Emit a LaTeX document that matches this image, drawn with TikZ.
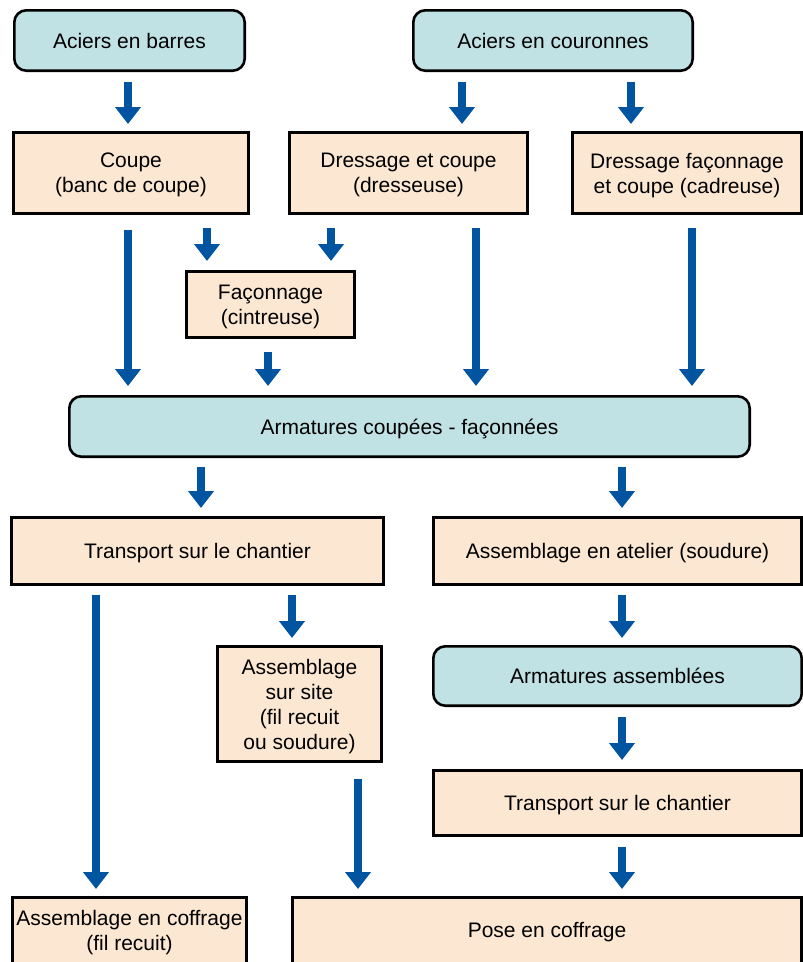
\documentclass[tikz,border=0pt]{standalone}
\usepackage{fontspec}
\setmainfont{Liberation Sans}
\usetikzlibrary{arrows.meta}
\definecolor{cyanfill}{RGB}{192,226,229}
\definecolor{peachfill}{RGB}{252,232,210}
\definecolor{arrowblue}{RGB}{0,84,160}
\tikzset{
  basebox/.style={draw=black, line width=2.6pt, align=center, inner sep=0pt,
    font=\fontsize{21}{25}\selectfont, text=black, text depth=0pt},
  stockbox/.style={basebox, fill=cyanfill, rounded corners=12pt},
  opbox/.style={basebox, fill=peachfill},
  flow/.style={draw=arrowblue, line width=8.7pt,
    -{Triangle[width=25pt,length=17pt]}},
}
\begin{document}
\begin{tikzpicture}[x=1pt,y=-1pt]
\useasboundingbox (0,0) rectangle (803,962);
% columns for arrows
\coordinate (k96) at (96,0);
\coordinate (k128) at (128,0);
\coordinate (k201) at (201,0);
\coordinate (k207) at (207,0);
\coordinate (k268) at (268,0);
\coordinate (k292) at (292,0);
\coordinate (k331) at (331,0);
\coordinate (k358) at (358,0);
\coordinate (k462) at (462,0);
\coordinate (k476) at (476,0);
\coordinate (k622) at (622,0);
\coordinate (k631) at (631,0);
\coordinate (k692) at (692,0);

% nodes
\node[stockbox, minimum width=230.4pt, minimum height=60.4pt] (barres) at (129.5,40.5) {Aciers en barres};
\node[stockbox, minimum width=279.4pt, minimum height=60.4pt] (couronnes) at (553,40.5) {Aciers en couronnes};
\node[opbox, minimum width=235.4pt, minimum height=81.4pt] (coupe) at (131,173) {Coupe\\(banc de coupe)};
\node[opbox, minimum width=238.4pt, minimum height=81.4pt] (dressage) at (408.5,173) {Dressage et coupe\\(dresseuse)};
\node[opbox, minimum width=229.4pt, minimum height=81.4pt] (cadreuse) at (687,173) {Dressage façonnage\\et coupe (cadreuse)};
\node[opbox, minimum width=168.4pt, minimum height=66.4pt] (faconnage) at (270.5,304.5) {Façonnage\\(cintreuse)};
\node[stockbox, minimum width=680.4pt, minimum height=60.4pt] (armatures) at (409.5,426.5) {Armatures coupées - façonnées};
\node[opbox, minimum width=372.4pt, minimum height=67.4pt] (transportL) at (197.5,551) {Transport sur le chantier};
\node[opbox, minimum width=368.4pt, minimum height=67.4pt] (atelier) at (617.5,551) {Assemblage en atelier (soudure)};
\node[opbox, minimum width=164.4pt, minimum height=115.4pt] (site) at (299.5,704) {Assemblage\\sur site\\(fil recuit\\ou soudure)};
\node[stockbox, minimum width=368.4pt, minimum height=59.4pt] (assemblees) at (617.5,676) {Armatures assemblées};
\node[opbox, minimum width=368.4pt, minimum height=65.4pt] (transportR) at (617.5,803) {Transport sur le chantier};
\node[opbox, minimum width=234.4pt, minimum height=66pt] (coffrage) at (129.5,930.3) {Assemblage en coffrage\\(fil recuit)};
\node[opbox, minimum width=509.4pt, minimum height=66pt] (pose) at (547,930.3) {Pose en coffrage};

% connectors
\draw[flow, shorten <=10pt, shorten >=7pt] (barres.south -| k128) -- (coupe.north -| k128);
\draw[flow, shorten <=10pt, shorten >=7pt] (couronnes.south -| k462) -- (dressage.north -| k462);
\draw[flow, shorten <=10pt, shorten >=7pt] (couronnes.south -| k631) -- (cadreuse.north -| k631);
\draw[flow, shorten <=13pt, shorten >=9pt] (coupe.south -| k207) -- (faconnage.north -| k207);
\draw[flow, shorten <=13pt, shorten >=9pt] (dressage.south -| k331) -- (faconnage.north -| k331);
\draw[flow, shorten <=15pt, shorten >=9pt] (coupe.south -| k128) -- (armatures.north -| k128);
\draw[flow, shorten <=13pt, shorten >=9pt] (faconnage.south -| k268) -- (armatures.north -| k268);
\draw[flow, shorten <=13pt, shorten >=9pt] (dressage.south -| k476) -- (armatures.north -| k476);
\draw[flow, shorten <=13pt, shorten >=9pt] (cadreuse.south -| k692) -- (armatures.north -| k692);
\draw[flow, shorten <=9pt, shorten >=8pt] (armatures.south -| k201) -- (transportL.north -| k201);
\draw[flow, shorten <=9pt, shorten >=8pt] (armatures.south -| k622) -- (atelier.north -| k622);
\draw[flow, shorten <=9pt, shorten >=7pt] (transportL.south -| k96) -- (coffrage.north -| k96);
\draw[flow, shorten <=9pt, shorten >=7pt] (transportL.south -| k292) -- (site.north -| k292);
\draw[flow, shorten <=9pt, shorten >=7pt] (atelier.south -| k622) -- (assemblees.north -| k622);
\draw[flow, shorten <=10pt, shorten >=9pt] (assemblees.south -| k622) -- (transportR.north -| k622);
\draw[flow, shorten <=16pt, shorten >=7pt] (site.south -| k358) -- (pose.north -| k358);
\draw[flow, shorten <=10pt, shorten >=7pt] (transportR.south -| k622) -- (pose.north -| k622);
\end{tikzpicture}
\end{document}
